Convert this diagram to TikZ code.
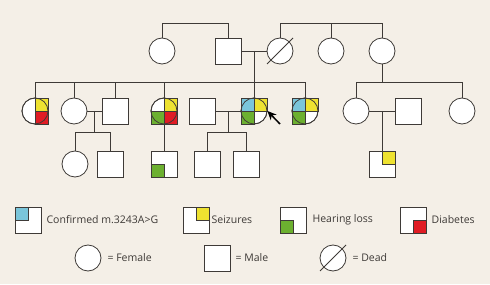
\documentclass[tikz,border=0pt]{standalone}
\usepackage{fontspec}
\setmainfont{Open Sans}
\usetikzlibrary{arrows.meta,calc,positioning}
\definecolor{bg}{RGB}{244,239,231}
\definecolor{lin}{RGB}{62,58,55}
\definecolor{cmt}{RGB}{122,197,218}
\definecolor{sez}{RGB}{238,226,48}
\definecolor{hrl}{RGB}{108,176,48}
\definecolor{dia}{RGB}{224,28,36}
% one coloured quarter of a symbol, and the circle drawn again on top
\newcommand{\qd}[3]{\filldraw[qd,fill=#3] (#1.center) rectangle ++(#2);}
\newcommand{\rim}[1]{\draw[qd] (#1.center) circle[radius=13];}

\begin{document}
\begin{tikzpicture}[x=1pt,y=1pt,>={Stealth[length=9pt,width=8pt]},
  fem/.style={circle,draw=lin,line width=.8pt,fill=white,minimum size=26pt,inner sep=0pt},
  mal/.style={rectangle,draw=lin,line width=.8pt,fill=white,minimum size=26pt,inner sep=0pt},
  ln/.style={draw=lin,line width=.8pt},
  qd/.style={draw=lin,line width=.8pt},
  lab/.style={font=\fontsize{10.5}{12}\selectfont,text=lin,inner sep=0pt,anchor=west}]

\fill[bg] (0,0) rectangle (490,284);
\useasboundingbox (0,0) rectangle (490,284);

% ---------- generation I ----------
\node[fem] (f1) at (162,233) {};
\node[mal] (m1) at (228,233) {};
\node[fem] (d1) at (280,233) {};
\node[fem] (f2) at (331,233) {};
\node[fem] (f3) at (382,233) {};
\draw[ln] ($(d1.center)+(-13,-13)$) -- ($(d1.center)+(13,13)$);

% ---------- generation II ----------
\node[fem] (ii1) at (35,173) {};
\node[fem] (ii2) at (74,173) {};
\node[mal] (ii3) at (115,173) {};
\node[fem] (ii4) at (164,173) {};
\node[mal] (ii5) at (202,173) {};
\node[fem] (pro) at (254,173) {};
\node[fem] (ii7) at (305,173) {};
\node[fem] (ii8) at (356,173) {};
\node[mal] (ii9) at (408,173) {};
\node[fem] (ii10) at (462,173) {};

% ---------- generation III ----------
\node[fem] (iii1) at (75,120) {};
\node[mal] (iii2) at (110,120) {};
\node[mal] (iii3) at (164,120) {};
\node[mal] (iii4) at (207,120) {};
\node[mal] (iii5) at (246,120) {};
\node[mal] (iii6) at (382,120) {};

% ---------- lines of descent ----------
\draw[ln] (f1.north) -- ++(0,14) -| (m1.north);
\draw[ln] (d1.north) -- ++(0,14) -| (f3.north);
\draw[ln] (f2.north) -- ++(0,14);
\draw[ln] (m1.east) -- (d1.west);
\draw[ln] ($(m1.east)!.5!(d1.west)$) -- (pro.north);
\draw[ln] (ii1.north) -- ++(0,15) -| (ii7.north);
\foreach \n in {ii2,ii3} \draw[ln] (\n.north) -- ++(0,15);
\draw[ln] (iii3.north) -- ++(0,68);
\draw[ln] (f3.south) -- ++(0,-19);
\draw[ln] (ii8.north) -- ++(0,15) -| (ii10.north);
\draw[ln] (ii2.east) -- (ii3.west);
\draw[ln] ($(ii2.east)!.5!(ii3.west)$) -- ++(0,-22);
\draw[ln] (iii1.north) -- ++(0,18) -| (iii2.north);
\draw[ln] (ii5.east) -- (pro.west);
\draw[ln] ($(ii5.east)!.5!(pro.west)$) -- ++(0,-22);
\draw[ln] (iii4.north) -- ++(0,18) -| (iii5.north);
\draw[ln] (ii8.east) -- (ii9.west);
\draw[ln] ($(ii8.east)!.5!(ii9.west)$) -- (iii6.north);

% ---------- affected quarters ----------
\qd{ii1}{13,13}{sez} \qd{ii1}{13,-13}{dia} \rim{ii1}
\qd{ii4}{13,13}{sez} \qd{ii4}{-13,-13}{hrl} \qd{ii4}{13,-13}{dia} \rim{ii4}
\qd{pro}{-13,13}{cmt} \qd{pro}{13,13}{sez} \qd{pro}{-13,-13}{hrl} \rim{pro}
\qd{ii7}{-13,13}{cmt} \qd{ii7}{13,13}{sez} \qd{ii7}{-13,-13}{hrl} \rim{ii7}
\qd{iii3}{-13,-13}{hrl}
\qd{iii6}{13,13}{sez}
\coordinate (tail) at (280,160);
\draw[->,line width=1.5pt,black] (tail) -- (pro.east);

% ---------- key ----------
\node[mal] (k1) at (28,64) {};
\qd{k1}{-13,13}{cmt}
\node[lab,right=5pt of k1] (t1) {Confirmed m.3243A>G};
\node[mal] (k2) at (196,64) {};
\qd{k2}{13,13}{sez}
\node[lab,right=2pt of k2] (t2) {Seizures};
\node[mal] (k3) at (293,64) {};
\qd{k3}{-13,-13}{hrl}
\node[lab,right=6pt of k3] (t3) {Hearing loss};
\node[mal] (k4) at (413,64) {};
\qd{k4}{13,-13}{dia}
\node[lab,right=5pt of k4] (t4) {Diabetes};

\node[fem] (k5) at (88,26) {};
\node[lab,right=6pt of k5] (t5) {= Female};
\node[mal] (k6) at (217,26) {};
\node[lab,right=5pt of k6] (t6) {= Male};
\node[fem] (k7) at (333,26) {};
\draw[ln] ($(k7.center)+(-13,-13)$) -- ($(k7.center)+(13,13)$);
\node[lab,right=6pt of k7] (t7) {= Dead};
\end{tikzpicture}
\end{document}
